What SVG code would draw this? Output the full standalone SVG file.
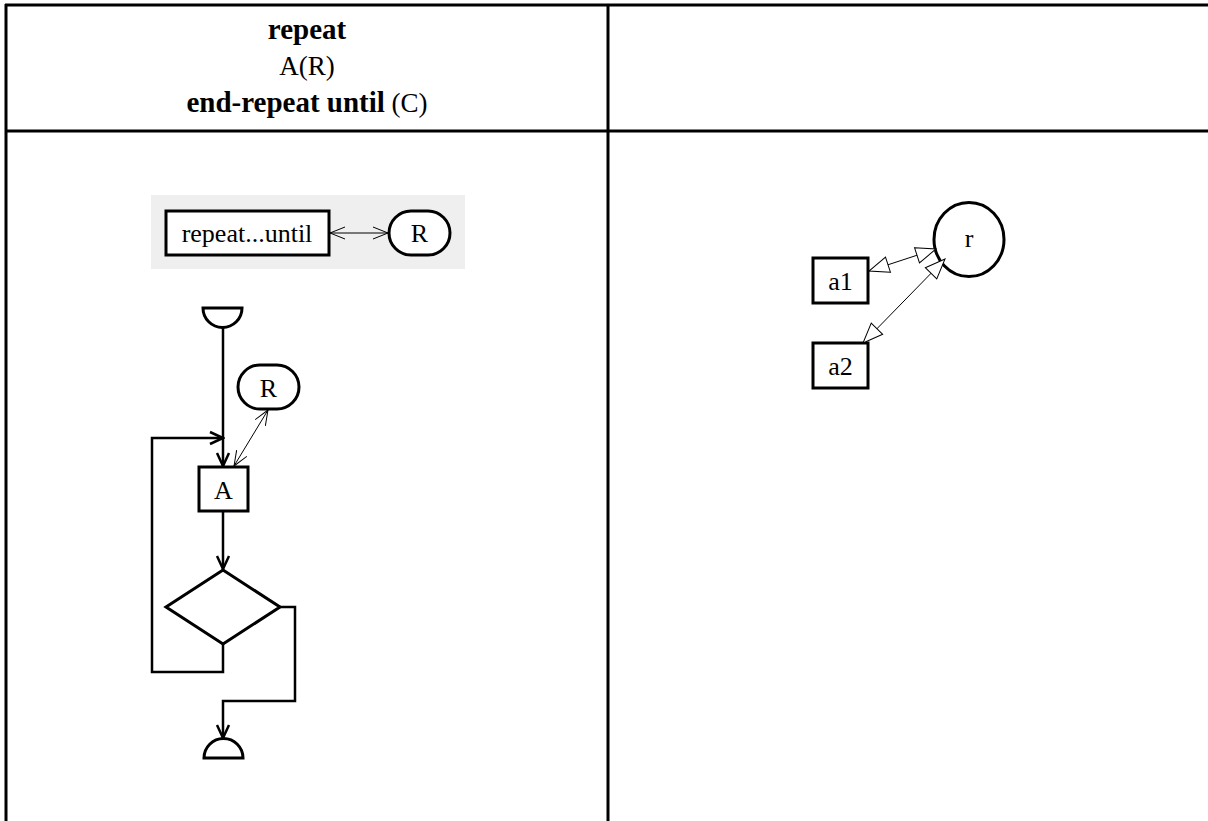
<svg xmlns="http://www.w3.org/2000/svg" width="1208" height="821" viewBox="0 0 1208 821">
  <style>
    .grid { stroke: #000; stroke-width: 3; fill: none; }
    .hdr { font-family: "Liberation Serif", "Times New Roman", serif; font-size: 27px; fill: #000; text-anchor: middle; }
    .b { font-weight: bold; font-size: 29px; }
    .node { fill: #fff; stroke: #000; stroke-width: 3; }
    .flow { fill: none; stroke: #000; stroke-width: 2.5; }
    .thin { fill: none; stroke: #000; stroke-width: 1; }
    .lbl { font-family: "Liberation Serif", "Times New Roman", serif; font-size: 26px; fill: #000; text-anchor: middle; dominant-baseline: central; }
  </style>
  <defs>
    <marker id="vThick" markerUnits="userSpaceOnUse" viewBox="0 0 16 16" refX="14" refY="8" markerWidth="16" markerHeight="16" orient="auto-start-reverse">
      <path d="M1,2 L14,8 L1,14" fill="none" stroke="#000" stroke-width="2.5"/>
    </marker>
    <marker id="vThin" markerUnits="userSpaceOnUse" viewBox="0 0 16 14" refX="15" refY="7" markerWidth="16" markerHeight="14" orient="auto-start-reverse">
      <path d="M0,1 L15,7 L0,13" fill="none" stroke="#000" stroke-width="1"/>
    </marker>
    <marker id="hollow" markerUnits="userSpaceOnUse" viewBox="0 0 22 18" refX="21" refY="9" markerWidth="22" markerHeight="18" orient="auto-start-reverse">
      <path d="M1,1 L21,9 L1,17 Z" fill="#fff" stroke="#000" stroke-width="1"/>
    </marker>
  </defs>

  <rect width="1208" height="821" fill="#fff"/>

  <!-- table frame -->
  <g id="table">
    <line class="grid" x1="5" y1="5" x2="1208" y2="5"/>
    <line class="grid" x1="5" y1="131" x2="1208" y2="131"/>
    <line class="grid" x1="6" y1="4" x2="6" y2="821"/>
    <line class="grid" x1="608" y1="4" x2="608" y2="821"/>
  </g>

  <!-- header cell -->
  <g id="header">
    <text class="hdr b" x="307" y="39">repeat</text>
    <text class="hdr" x="307" y="75">A(R)</text>
    <text class="hdr" x="307" y="112"><tspan class="b">end-repeat until</tspan> (C)</text>
  </g>

  <!-- legend panel -->
  <g id="legend">
    <rect x="151" y="195" width="314" height="74" fill="#efefef"/>
  </g>
  <g id="legend-repeat">
    <rect class="node" x="166" y="211" width="163" height="44"/>
    <text class="lbl" x="247" y="233">repeat...until</text>
  </g>
  <g id="legend-R">
    <rect class="node" x="389" y="211" width="61" height="44" rx="22" ry="22"/>
    <text class="lbl" x="419.5" y="233">R</text>
  </g>

  <!-- flowchart nodes -->
  <g id="start">
    <path class="node" d="M203,308 L242,308 A19.5,19.5 0 0 1 203,308 Z" stroke-width="2.5"/>
  </g>
  <g id="R">
    <rect class="node" x="238" y="365" width="61" height="44" rx="22" ry="22" stroke-width="2.5"/>
    <text class="lbl" x="268.5" y="388">R</text>
  </g>
  <g id="A">
    <rect class="node" x="199" y="467" width="49" height="44" stroke-width="2.5"/>
    <text class="lbl" x="223.5" y="490">A</text>
  </g>
  <g id="cond">
    <polygon class="node" points="223,570 280,607 223,644 166,607" stroke-width="2.5"/>
  </g>
  <g id="end">
    <path class="node" d="M204,758 A19.5,19.5 0 0 1 243,758 Z" stroke-width="2.5"/>
  </g>

  <!-- right-hand graph nodes -->
  <g id="r">
    <ellipse class="node" cx="969" cy="239.5" rx="35" ry="37"/>
    <text class="lbl" x="969" y="238">r</text>
  </g>
  <g id="a1">
    <rect class="node" x="813" y="258" width="55" height="45"/>
    <text class="lbl" x="840.5" y="281">a1</text>
  </g>
  <g id="a2">
    <rect class="node" x="813" y="343" width="55" height="45"/>
    <text class="lbl" x="840.5" y="366">a2</text>
  </g>

  <!-- connectors -->
  <g id="connectors">
    <line class="thin" x1="330" y1="233" x2="388" y2="233" marker-start="url(#vThin)" marker-end="url(#vThin)"/>
    <line class="flow" x1="223" y1="327" x2="223" y2="466" marker-end="url(#vThick)"/>
    <polyline class="flow" points="223,644 223,672 152,672 152,438 223,438" marker-end="url(#vThick)"/>
    <line class="flow" x1="223" y1="511" x2="223" y2="569" marker-end="url(#vThick)"/>
    <polyline class="flow" points="280,607 295,607 295,701 223,701 223,738" marker-end="url(#vThick)"/>
    <line class="thin" x1="268" y1="410" x2="234" y2="466" marker-start="url(#vThin)" marker-end="url(#vThin)"/>
    <line class="thin" x1="869" y1="271" x2="936" y2="249" marker-start="url(#hollow)" marker-end="url(#hollow)"/>
    <line class="thin" x1="863" y1="343" x2="945" y2="259" marker-start="url(#hollow)" marker-end="url(#hollow)"/>
  </g>
</svg>
